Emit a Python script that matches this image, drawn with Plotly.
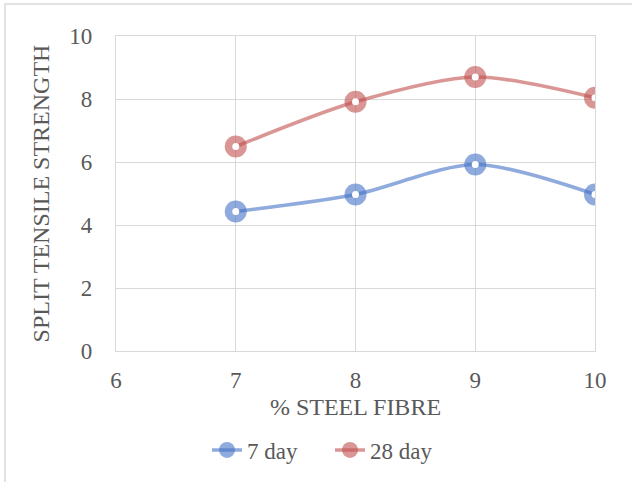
import plotly.graph_objects as go

# % steel fibre and split tensile strength results
fibre_pct = [7, 8, 9, 10]
strength_7_day = [4.43, 4.97, 5.92, 4.97]
strength_28_day = [6.49, 7.91, 8.70, 8.04]

x_ticks = [6, 7, 8, 9, 10]
y_ticks = [0, 2, 4, 6, 8, 10]

W, H = 632, 482
L, R, T, B = 116, 37, 36, 130
pw, ph = W - L - R, H - T - B

text_col = "#595959"
grid_col = "#D9D9D9"
font_family = "Liberation Serif"

blue = "rgba(68,114,196,0.6)"
red = "rgba(192,80,77,0.6)"


def series(name, y, col):
    # smoothed line with large translucent round markers
    main = go.Scatter(
        x=fibre_pct, y=y, name=name, mode="lines+markers", legendgroup=name,
        line=dict(color=col, width=3.6, shape="spline", smoothing=0.8),
        marker=dict(symbol="circle", size=22, color=col, line=dict(width=0)),
    )
    # white centre dot on each marker
    dots = go.Scatter(
        x=fibre_pct, y=y, name=name, mode="markers", legendgroup=name,
        showlegend=False, hoverinfo="skip",
        marker=dict(symbol="circle", size=7, color="white", line=dict(width=0)),
    )
    return [main, dots]


fig = go.Figure(series("7 day", strength_7_day, blue)
                + series("28 day", strength_28_day, red))

# outer chart frame (top and left edges visible in the window)
fig.add_shape(type="rect", xref="paper", yref="paper",
              x0=(5 - L) / pw, x1=(W + 20 - L) / pw,
              y0=(T + ph - (H + 20)) / ph, y1=(T + ph - 4) / ph,
              line=dict(color="#D9D9D9", width=1.5), layer="below")

fig.update_layout(
    width=W, height=H,
    margin=dict(l=L, r=R, t=T, b=B, pad=0),
    paper_bgcolor="white", plot_bgcolor="white",
    font=dict(family=font_family, size=23, color=text_col),
    showlegend=True,
    legend=dict(orientation="h", x=(330 - L) / pw, xanchor="center",
                y=(T + ph - 450) / ph, yanchor="middle",
                font=dict(family=font_family, size=23, color=text_col),
                itemsizing="trace", traceorder="normal", entrywidth=78),
)
fig.update_xaxes(
    range=[6, 10], tickvals=x_ticks, ticktext=[str(v) for v in x_ticks],
    showgrid=True, gridcolor=grid_col, gridwidth=1.3,
    showline=True, linecolor=grid_col, linewidth=1.3, mirror=True,
    zeroline=False, ticks="outside", ticklen=8, tickcolor="rgba(0,0,0,0)",
    tickfont=dict(family=font_family, size=23, color=text_col),
    title=dict(text="% STEEL FIBRE",
               font=dict(family=font_family, size=24, color=text_col),
               standoff=6),
)
fig.update_yaxes(
    range=[0, 10], tickvals=y_ticks, ticktext=[str(v) for v in y_ticks],
    showgrid=True, gridcolor=grid_col, gridwidth=1.3,
    showline=True, linecolor=grid_col, linewidth=1.3, mirror=True,
    zeroline=False, ticks="outside", ticklen=18, tickcolor="rgba(0,0,0,0)",
    tickfont=dict(family=font_family, size=23, color=text_col),
    title=dict(text="SPLIT TENSILE STRENGTH",
               font=dict(family=font_family, size=24, color=text_col),
               standoff=12),
)

fig.write_html("out.html")
